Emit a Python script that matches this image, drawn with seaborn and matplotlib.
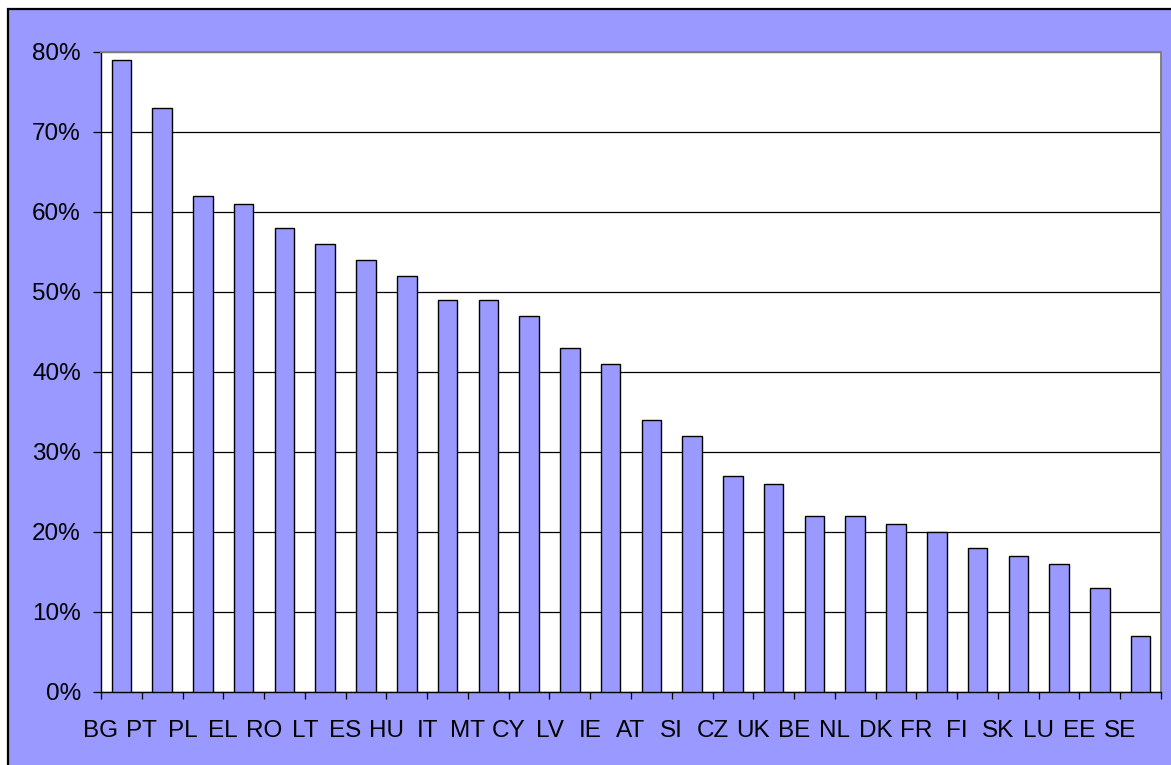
import numpy as np
import pandas as pd
import matplotlib
matplotlib.use("Agg")
import matplotlib.pyplot as plt
from matplotlib.patches import Rectangle
from matplotlib.ticker import FuncFormatter
import seaborn as sns

countries = ["BG", "PT", "PL", "EL", "RO", "LT", "ES", "HU", "IT", "MT", "CY", "LV", "IE",
             "AT", "SI", "CZ", "UK", "BE", "NL", "DK", "FR", "FI", "SK", "LU", "EE", "SE"]
shares = [79, 73, 62, 61, 58, 56, 54, 52, 49, 49, 47, 43, 41,
          34, 32, 27, 26, 22, 22, 21, 20, 18, 17, 16, 13, 7]
y_ticks = [0, 10, 20, 30, 40, 50, 60, 70, 80]

periwinkle = "#9999FF"

sns.set_theme(style="white")
plt.rcParams["font.family"] = ["Liberation Sans", "DejaVu Sans"]

W, H = 1171, 765
fig = plt.figure(figsize=(W / 100, H / 100), dpi=100, facecolor="white")

# chart area background with black frame on the left and top
fig.patches.append(Rectangle((8 / W, -0.01), 1.02, 1 - 9 / H + 0.01,
                             transform=fig.transFigure, facecolor=periwinkle,
                             edgecolor="black", linewidth=1.6, zorder=-10))

ax = fig.add_axes([101 / W, (H - 692) / H, (1161 - 101) / W, (692 - 51.5) / H])
ax.set_facecolor("white")

df = pd.DataFrame({"country": countries, "share": shares})
sns.barplot(data=df, x="country", y="share", color=periwinkle, saturation=1,
            edgecolor="black", linewidth=1.0, width=0.48, ax=ax, zorder=3)

ax.set_ylim(0, 80)
ax.set_xlim(-0.5, len(countries) - 0.5)
ax.set_yticks(y_ticks)
ax.yaxis.set_major_formatter(FuncFormatter(lambda v, p: f"{v:.0f}%"))
ax.yaxis.grid(True, color="black", linewidth=0.9, zorder=1)
ax.set_axisbelow(True)

# category labels sit on the boundary ticks
ax.set_xticks(np.arange(len(countries) + 1) - 0.5, countries + [""])

ax.set_xlabel("")
ax.set_ylabel("")
ax.tick_params(axis="y", which="major", left=True, length=6, width=0.9, color="black",
               labelsize=17.5, pad=8.5, labelcolor="black")
ax.tick_params(axis="x", which="major", bottom=True, length=5, width=0.9, color="black",
               labelsize=17.5, pad=15.5, labelcolor="black")

for side in ["left", "bottom"]:
    ax.spines[side].set_color("black")
    ax.spines[side].set_linewidth(1.0)
for side in ["top", "right"]:
    ax.spines[side].set_color("#808080")
    ax.spines[side].set_linewidth(1.4)

fig.savefig("out.png", dpi=100, facecolor=fig.get_facecolor())
